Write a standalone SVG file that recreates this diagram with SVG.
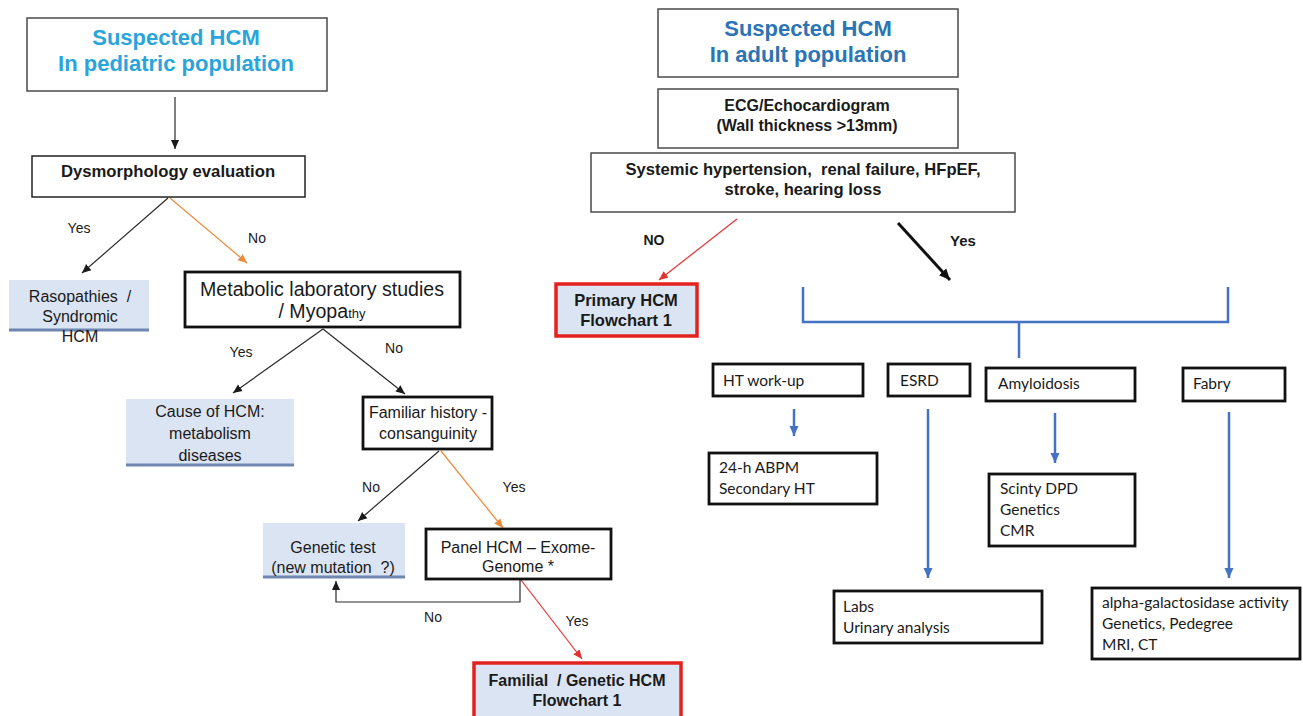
<svg xmlns="http://www.w3.org/2000/svg" width="1303" height="716" viewBox="0 0 1303 716">
<style>
.bg{fill:#ffffff}
.t{font-family:"Liberation Sans",Arial,sans-serif;fill:#1a1a1a}
.b{font-weight:bold}
.c{text-anchor:middle}
.title1{font-family:"Liberation Sans",Arial,sans-serif;font-weight:bold;font-size:22px;fill:#29a5dc;text-anchor:middle}
.title2{font-family:"Liberation Sans",Arial,sans-serif;font-weight:bold;font-size:22px;fill:#2b74b5;text-anchor:middle}
.cal{font-family:Lato,"Open Sans",sans-serif;font-size:15.5px;fill:#1a1a1a}
.thin{fill:#fff;stroke:#4a4a4a;stroke-width:1.5}
.thick{fill:#fff;stroke:#111;stroke-width:2.8}
.lb{fill:#dbe4f2;stroke:none}
.lbline{stroke:#6f86b0;stroke-width:3}
.red{fill:#dbe4f2;stroke:#e3221f;stroke-width:3.5}
.ck{stroke:#2a2a2a;stroke-width:1.2;fill:none}
.co{stroke:#ee8a3c;stroke-width:1.2;fill:none}
.cr{stroke:#e0332f;stroke-width:1.2;fill:none}
.cb{stroke:#4472c4;stroke-width:2.5;fill:none}
.cbold{stroke:#111;stroke-width:3;fill:none}
</style>
<defs>
<marker id="ak" viewBox="0 0 10 10" refX="10" refY="5" markerWidth="9" markerHeight="9" markerUnits="userSpaceOnUse" orient="auto"><path d="M0,0.5 L10,5 L0,9.5 z" fill="#1a1a1a"/></marker>
<marker id="ao" viewBox="0 0 10 10" refX="10" refY="5" markerWidth="9" markerHeight="9" markerUnits="userSpaceOnUse" orient="auto"><path d="M0,0.5 L10,5 L0,9.5 z" fill="#ee8a3c"/></marker>
<marker id="ar" viewBox="0 0 10 10" refX="10" refY="5" markerWidth="9" markerHeight="9" markerUnits="userSpaceOnUse" orient="auto"><path d="M0,0.5 L10,5 L0,9.5 z" fill="#e0332f"/></marker>
<marker id="ab" viewBox="0 0 10 10" refX="10" refY="5" markerWidth="10" markerHeight="10" markerUnits="userSpaceOnUse" orient="auto"><path d="M0,0.5 L10,5 L0,9.5 z" fill="#4472c4"/></marker>
<marker id="akb" viewBox="0 0 10 10" refX="10" refY="5" markerWidth="11" markerHeight="11" markerUnits="userSpaceOnUse" orient="auto"><path d="M0,0.5 L10,5 L0,9.5 z" fill="#111"/></marker>
</defs>
<rect class="bg" x="0" y="0" width="1303" height="716"/>

<g id="connectors">
  <line class="ck" x1="175" y1="97" x2="175" y2="149" marker-end="url(#ak)"/>
  <line class="ck" x1="168" y1="198" x2="82" y2="273" marker-end="url(#ak)"/>
  <line class="co" x1="170" y1="198" x2="247" y2="263" marker-end="url(#ao)"/>
  <line class="ck" x1="323" y1="329" x2="233" y2="393" marker-end="url(#ak)"/>
  <line class="ck" x1="323" y1="329" x2="405" y2="394" marker-end="url(#ak)"/>
  <line class="ck" x1="439" y1="451" x2="358" y2="521" marker-end="url(#ak)"/>
  <line class="co" x1="441" y1="451" x2="503" y2="528" marker-end="url(#ao)"/>
  <polyline class="ck" points="520,580 520,602 336,602 336,581" marker-end="url(#ak)"/>
  <line class="cr" x1="521" y1="580" x2="582" y2="659" marker-end="url(#ar)"/>
  <line class="cr" x1="737" y1="219" x2="659" y2="280" marker-end="url(#ar)"/>
  <line class="cbold" x1="898" y1="223" x2="950" y2="280" marker-end="url(#akb)"/>
  <polyline class="cb" points="803,287 803,322 1228,322 1228,287"/>
  <line class="cb" x1="1019" y1="322" x2="1019" y2="358"/>
  <line class="cb" x1="794" y1="409" x2="794" y2="436" marker-end="url(#ab)"/>
  <line class="cb" x1="928" y1="409" x2="928" y2="578" marker-end="url(#ab)"/>
  <line class="cb" x1="1055" y1="413" x2="1055" y2="463" marker-end="url(#ab)"/>
  <line class="cb" x1="1229" y1="412" x2="1229" y2="578" marker-end="url(#ab)"/>
  <text class="t" x="79" y="233" font-size="14" text-anchor="middle">Yes</text>
  <text class="t" x="257" y="243" font-size="14" text-anchor="middle">No</text>
  <text class="t" x="241" y="357" font-size="14" text-anchor="middle">Yes</text>
  <text class="t" x="394" y="353" font-size="14" text-anchor="middle">No</text>
  <text class="t" x="371" y="492" font-size="14" text-anchor="middle">No</text>
  <text class="t" x="514" y="492" font-size="14" text-anchor="middle">Yes</text>
  <text class="t" x="433" y="622" font-size="14" text-anchor="middle">No</text>
  <text class="t" x="577" y="626" font-size="14" text-anchor="middle">Yes</text>
  <text class="t b" x="654" y="245" font-size="14" text-anchor="middle">NO</text>
  <text class="t b" x="963" y="246" font-size="15" text-anchor="middle">Yes</text>
</g>

<g id="ped-title">
  <rect class="thin" x="27" y="18" width="300" height="73"/>
  <text class="title1" x="176" y="45">Suspected HCM</text>
  <text class="title1" x="176" y="71">In pediatric population</text>
</g>
<g id="dysmorphology">
  <rect class="thin" x="32" y="156" width="273" height="41" style="stroke:#222"/>
  <text class="t b c" x="168" y="177" font-size="16.7">Dysmorphology evaluation</text>
</g>
<g id="rasopathies">
  <rect class="lb" x="9" y="280" width="140" height="50"/>
  <line class="lbline" x1="9" y1="330" x2="149" y2="330"/>
  <text class="t c" x="80" y="302" font-size="16">Rasopathies&#160; /</text>
  <text class="t c" x="80" y="322" font-size="16">Syndromic</text>
  <text class="t c" x="80" y="342" font-size="16">HCM</text>
</g>
<g id="metabolic">
  <rect class="thick" x="185" y="272" width="275" height="55"/>
  <text class="t c" x="322" y="296" font-size="19.6">Metabolic laboratory studies</text>
  <text class="t c" x="322" y="318" font-size="19.6">/ Myopa<tspan font-size="13">thy</tspan></text>
</g>
<g id="cause">
  <rect class="lb" x="126" y="399" width="168" height="66"/>
  <line class="lbline" x1="126" y1="465" x2="294" y2="465"/>
  <text class="t c" x="210" y="417" font-size="16">Cause of HCM:</text>
  <text class="t c" x="210" y="439" font-size="16">metabolism</text>
  <text class="t c" x="210" y="461" font-size="16">diseases</text>
</g>
<g id="familiar">
  <rect class="thick" x="363" y="397" width="129" height="52"/>
  <text class="t c" x="428" y="418" font-size="16">Familiar history -</text>
  <text class="t c" x="428" y="439" font-size="16">consanguinity</text>
</g>
<g id="genetic-test">
  <rect class="lb" x="263" y="523" width="142" height="54"/>
  <line class="lbline" x1="263" y1="577" x2="405" y2="577"/>
  <text class="t c" x="333" y="553" font-size="16">Genetic test</text>
  <text class="t c" x="333" y="573" font-size="16">(new mutation&#160; ?)</text>
</g>
<g id="panel">
  <rect class="thick" x="426" y="529" width="185" height="50"/>
  <text class="t c" x="518" y="553" font-size="16">Panel HCM – Exome-</text>
  <text class="t c" x="518" y="572" font-size="16">Genome *</text>
</g>
<g id="familial">
  <rect class="red" x="474" y="663" width="207" height="55"/>
  <text class="t b c" x="577" y="686" font-size="16">Familial&#160; / Genetic HCM</text>
  <text class="t b c" x="577" y="706" font-size="16">Flowchart 1</text>
</g>

<g id="adult-title">
  <rect class="thin" x="658" y="9" width="300" height="68"/>
  <text class="title2" x="808" y="36">Suspected HCM</text>
  <text class="title2" x="808" y="62">In adult population</text>
</g>
<g id="ecg">
  <rect class="thin" x="658" y="89" width="300" height="59"/>
  <text class="t b c" x="807" y="111" font-size="16">ECG/Echocardiogram</text>
  <text class="t b c" x="807" y="131" font-size="16">(Wall thickness &gt;13mm)</text>
</g>
<g id="systemic">
  <rect class="thin" x="591" y="153" width="424" height="59"/>
  <text class="t b c" x="803" y="175" font-size="16.6">Systemic hypertension,&#160; renal failure, HFpEF,</text>
  <text class="t b c" x="803" y="195" font-size="16.6">stroke, hearing loss</text>
</g>
<g id="primary">
  <rect class="red" x="556" y="284" width="141" height="52"/>
  <text class="t b c" x="626" y="306" font-size="16.5">Primary HCM</text>
  <text class="t b c" x="626" y="326" font-size="16.5">Flowchart 1</text>
</g>
<g id="ht">
  <rect class="thick" x="713" y="364" width="150" height="32"/>
  <text class="cal" x="723" y="386">HT work-up</text>
</g>
<g id="esrd">
  <rect class="thick" x="888" y="364" width="82" height="32"/>
  <text class="cal" x="900" y="386">ESRD</text>
</g>
<g id="amyloidosis">
  <rect class="thick" x="986" y="368" width="149" height="33"/>
  <text class="cal" x="998" y="389">Amyloidosis</text>
</g>
<g id="fabry">
  <rect class="thick" x="1183" y="368" width="102" height="33"/>
  <text class="cal" x="1193" y="389">Fabry</text>
</g>
<g id="abpm">
  <rect class="thick" x="709" y="453" width="168" height="51"/>
  <text class="cal" x="719" y="473">24-h ABPM</text>
  <text class="cal" x="719" y="494">Secondary HT</text>
</g>
<g id="scinty">
  <rect class="thick" x="989" y="474" width="146" height="72"/>
  <text class="cal" x="1000" y="494">Scinty DPD</text>
  <text class="cal" x="1000" y="515">Genetics</text>
  <text class="cal" x="1000" y="536">CMR</text>
</g>
<g id="labs">
  <rect class="thick" x="834" y="591" width="208" height="52"/>
  <text class="cal" x="843" y="612">Labs</text>
  <text class="cal" x="843" y="633">Urinary analysis</text>
</g>
<g id="alpha">
  <rect class="thick" x="1092" y="588" width="208" height="71"/>
  <text class="cal" x="1102" y="608">alpha-galactosidase activity</text>
  <text class="cal" x="1102" y="629">Genetics, Pedegree</text>
  <text class="cal" x="1102" y="650">MRI, CT</text>
</g>
</svg>
